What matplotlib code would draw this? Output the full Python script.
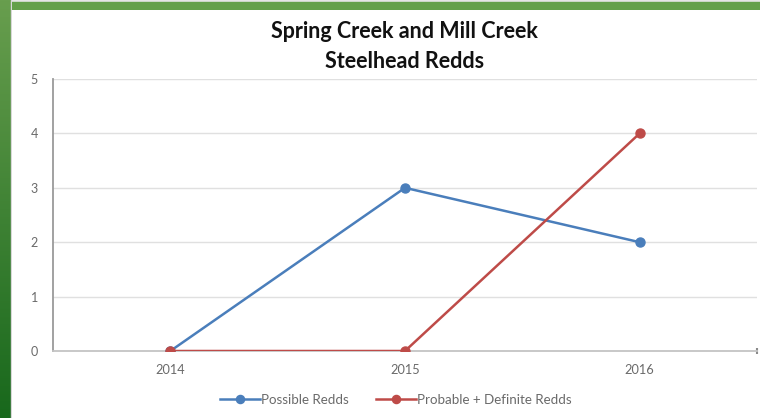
import numpy as np
import matplotlib
matplotlib.use("Agg")
import matplotlib.pyplot as plt

# redd counts per survey year
years = ["2014", "2015", "2016"]
possible = [0, 3, 2]
probable_definite = [0, 0, 4]
y_ticks = [0, 1, 2, 3, 4, 5]

plt.rcParams['font.family'] = ['Lato', 'DejaVu Sans']

fig = plt.figure(figsize=(7.6, 4.18), dpi=100)

# green frame pieces along the top and left edge
top = fig.add_axes([0, 1 - 10 / 418, 1, 10 / 418])
top.set_axis_off()
top.add_patch(plt.Rectangle((0, 0), 1, 1, color="#e6e6e6", transform=top.transAxes))
top.add_patch(plt.Rectangle((0, 0.15), 1, 0.65, color="#64a04a", transform=top.transAxes))

side = fig.add_axes([0, 0, 12 / 760, 1])
side.set_axis_off()
c_top = np.array([104, 158, 78]) / 255
c_bot = np.array([24, 104, 28]) / 255
t = np.linspace(0, 1, 200)[:, None, None]
grad = c_top * (1 - t) + c_bot * t
side.imshow(grad, aspect="auto", extent=[0, 1, 0, 1])
side.set_xlim(0, 1)
side.set_ylim(0, 1)
side.add_patch(plt.Rectangle((11 / 12, 0), 1 / 12, 1, color="#d8d8d8"))

ax = fig.add_axes([53 / 760, 1 - 351 / 418, 704 / 760, 272 / 418])
x = np.arange(len(years))
ax.plot(x, possible, color="#4a7ebb", lw=1.8, marker="o", ms=6.5,
        label="Possible Redds", zorder=3)
ax.plot(x, probable_definite, color="#be4b48", lw=1.8, marker="o", ms=6.5,
        label="Probable + Definite Redds", zorder=3)

ax.set_xlim(-0.5, len(years) - 0.5)
ax.set_ylim(0, 5)
ax.set_yticks(y_ticks)
ax.set_xticks(x)
ax.set_xticklabels(years)
ax.grid(axis="y", color="#e0e0e0", lw=1)
ax.set_axisbelow(True)
for s in ["top", "right"]:
    ax.spines[s].set_visible(False)
ax.spines["left"].set_color("#9a9a9a")
ax.spines["left"].set_linewidth(1.3)
ax.spines["bottom"].set_color("#c4c4c4")
ax.spines["bottom"].set_linewidth(1.3)
ax.tick_params(axis="y", length=0, pad=11, labelsize=9, labelcolor="#6a6a6a")
ax.tick_params(axis="x", length=0, pad=9, labelsize=9.2, labelcolor="#6a6a6a")
# small ticks near the right end of the category axis
ax.set_xticks([2, 2.5], minor=True)
ax.tick_params(axis="x", which="minor", length=4, width=1.5, color="#8a8a8a",
               direction="inout")

fig.text(0.532, 1 - 32 / 418, "Spring Creek and Mill Creek", ha="center", va="center",
         fontsize=15.5, fontweight="bold", color="#111111")
fig.text(0.532, 1 - 62 / 418, "Steelhead Redds", ha="center", va="center",
         fontsize=15.5, fontweight="bold", color="#111111")

fig.legend(loc="center", bbox_to_anchor=(0.521, 1 - 400 / 418), ncol=2, frameon=False,
           fontsize=9.6, labelcolor="#6a6a6a", handlelength=3.0, handletextpad=0.1,
           columnspacing=2.0, markerscale=0.9)

fig.savefig("out.png", dpi=100)
